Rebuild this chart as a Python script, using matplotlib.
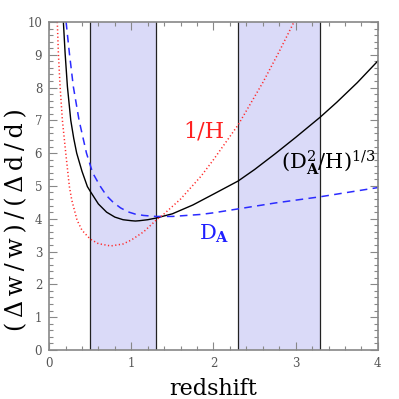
import numpy as np
import matplotlib.pyplot as plt
from matplotlib.ticker import MultipleLocator

plt.rcParams['font.family'] = ['DejaVu Serif']
plt.rcParams['mathtext.fontset'] = 'dejavuserif'

# survey redshift bins (shaded)
bins = [(0.5, 1.3), (2.3, 3.3)]

# (D_A^2/H)^(1/3)  black solid
z_dv = [0.174, 0.195, 0.223, 0.264, 0.30, 0.336, 0.40, 0.466, 0.5, 0.6, 0.7,
        0.8, 0.9, 1.0, 1.05, 1.1, 1.2, 1.3, 1.5, 1.75, 2.0, 2.3, 2.5, 2.75, 3.0, 3.3,
        3.5, 3.75, 4.0]
r_dv = [10.0, 9.05, 8.03, 7.0, 6.45, 6.0, 5.45, 4.98, 4.84, 4.45, 4.2,
        4.05, 3.97, 3.94, 3.93, 3.94, 3.97, 4.02, 4.15, 4.42, 4.75, 5.15, 5.5, 5.98, 6.48, 7.1,
        7.55, 8.15, 8.81]

# D_A  blue dashed
z_da = [0.207, 0.247, 0.295, 0.365, 0.455, 0.53, 0.62, 0.70, 0.78, 0.87,
        0.96, 1.05, 1.15, 1.3, 1.5, 1.84, 2.0, 2.3, 2.75, 3.3, 3.6, 4.0]
r_da = [10.0, 9.05, 8.03, 7.0, 6.0, 5.4, 5.0, 4.7, 4.5, 4.33,
        4.21, 4.14, 4.1, 4.07, 4.07, 4.13, 4.18, 4.3, 4.48, 4.67, 4.79, 4.95]

# 1/H  red dotted
z_h = [0.10, 0.113, 0.134, 0.162, 0.203, 0.247, 0.276, 0.34, 0.4, 0.5, 0.6, 0.75,
       0.9, 1.0, 1.15, 1.3, 1.4, 1.6, 1.85, 2.0, 2.3, 2.6, 2.8, 2.98]
r_h = [10.0, 9.05, 8.03, 7.0, 6.0, 4.98, 4.57, 3.96, 3.65, 3.38, 3.24, 3.17,
       3.23, 3.35, 3.6, 3.95, 4.15, 4.6, 5.3, 5.8, 6.86, 8.15, 9.1, 10.0]

fig = plt.figure(figsize=(3.99, 3.99), dpi=100)
ax = fig.add_axes([0.123, 0.123, 0.824, 0.822])

for lo, hi in bins:
    ax.axvspan(lo, hi, color='#dadaf8', lw=0, zorder=0)
    ax.axvline(lo, color='#222222', lw=0.9, zorder=1)
    ax.axvline(hi, color='#222222', lw=0.9, zorder=1)

ax.plot(z_dv, r_dv, color='black', lw=1.0, zorder=3)
ax.plot(z_da, r_da, color='#2b2bff', lw=1.1, ls=(0, (5, 3.5)), zorder=3)
ax.plot(z_h, r_h, color='#ff2a2a', lw=1.1, ls=(0, (0.8, 1.6)), zorder=3)

ax.text(1.63, 6.49, '1/H', color='#ff2020', fontsize=16)
ax.text(1.83, 3.35, r'$\mathrm{D}_{\mathbf{A}}$', color='#2020ff', fontsize=15)
ax.text(2.82, 5.52, r'$(\mathrm{D}_{\mathbf{A}}^{2}/\mathrm{H})^{1/3}$', color='black', fontsize=15)

ax.set_xlim(0, 4)
ax.set_ylim(0, 10)
ax.xaxis.set_major_locator(MultipleLocator(1))
ax.xaxis.set_minor_locator(MultipleLocator(0.2))
ax.yaxis.set_major_locator(MultipleLocator(1))
ax.yaxis.set_minor_locator(MultipleLocator(0.2))
ax.tick_params(which='both', direction='in', top=True, right=True,
               color='#888888', labelcolor='#555555', labelsize=8.5, pad=5)
ax.tick_params(which='major', length=5.8, width=0.8)
ax.tick_params(which='minor', length=2.9, width=0.8)
for s in ax.spines.values():
    s.set_color('#888888')
    s.set_linewidth(1.2)
    s.set_zorder(5)

ax.set_xlabel('redshift', fontsize=16, labelpad=6)
hs = '\u200a' * 2
ax.set_ylabel(hs.join('(\u0394w/w)/(\u0394d/d)'), fontsize=17)
ax.yaxis.set_label_coords(-0.062, 0.396)

plt.savefig('out.png', dpi=100)
